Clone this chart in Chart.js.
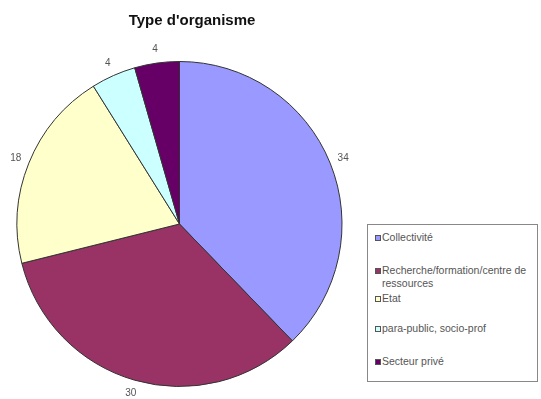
<!DOCTYPE html>
<html>
<head>
<meta charset="utf-8">
<script src="https://cdn.jsdelivr.net/npm/chart.js@4"></script>
<style>
    html, body { margin: 0; padding: 0; background: #fff; }
    #wrap { position: relative; width: 541px; height: 399px; }
    #pie { position: absolute; left: 0; top: 0; }
    #title {
        position: absolute; left: 92px; width: 200px; top: 11px;
        text-align: center; font: bold 15px "Liberation Sans", Arial, sans-serif; color: #111;
    }
    #legend {
        position: absolute; left: 367px; top: 224px; width: 171px; height: 158px;
        box-sizing: border-box; border: 1px solid #888; background: #fff;
        font: 10.5px "Liberation Sans", Arial, sans-serif; color: #555;
    }
    #legend .item { position: absolute; left: 7px; right: 0; line-height: 13px; padding-left: 7px; }
    #legend .box {
        position: absolute; left: 0; top: 4px; width: 4px; height: 4px;
        border: 1px solid #555;
    }
</style>
</head>
<body>
<div id="wrap">
    <canvas id="pie" width="541" height="399"></canvas>
    <div id="title">Type d'organisme</div>
    <div id="legend"></div>
</div>
<script>
const categories = ['Collectivité', 'Recherche/formation/centre de ressources', 'Etat', 'para-public, socio-prof', 'Secteur privé'];
const values = [34, 30, 18, 4, 4];
const colors = ['#9999FF', '#993366', '#FFFFCC', '#CCFFFF', '#660066'];
// legend row tops (px inside the legend box)
const legendTops = [6, 39, 67, 97, 130];

// value labels outside each slice
const outsideLabels = {
    id: 'outsideLabels',
    afterDatasetsDraw(chart) {
        const ctx = chart.ctx;
        const meta = chart.getDatasetMeta(0);
        ctx.save();
        ctx.font = '10px "Liberation Sans", Arial, sans-serif';
        ctx.fillStyle = '#555';
        ctx.textAlign = 'center';
        ctx.textBaseline = 'middle';
        meta.data.forEach((arc, i) => {
            const p = arc.getProps(['x', 'y', 'startAngle', 'endAngle', 'outerRadius'], true);
            const mid = (p.startAngle + p.endAngle) / 2;
            const r = p.outerRadius + 14;
            ctx.fillText(values[i], p.x + Math.cos(mid) * r, p.y + Math.sin(mid) * r);
        });
        ctx.restore();
    }
};

new Chart(document.getElementById('pie'), {
    type: 'pie',
    data: {
        labels: categories,
        datasets: [{
            data: values,
            backgroundColor: colors,
            borderColor: '#333',
            borderWidth: 1
        }]
    },
    options: {
        responsive: false,
        animation: false,
        layout: { padding: { left: 16, right: 198, top: 61, bottom: 12 } },
        plugins: { legend: { display: false }, tooltip: { enabled: false } }
    },
    plugins: [outsideLabels]
});

const legend = document.getElementById('legend');
categories.forEach((c, i) => {
    const item = document.createElement('div');
    item.className = 'item';
    item.style.top = legendTops[i] + 'px';
    item.innerHTML = '<span class="box" style="background:' + colors[i] + '"></span>' + c;
    legend.appendChild(item);
});
</script>
</body>
</html>
